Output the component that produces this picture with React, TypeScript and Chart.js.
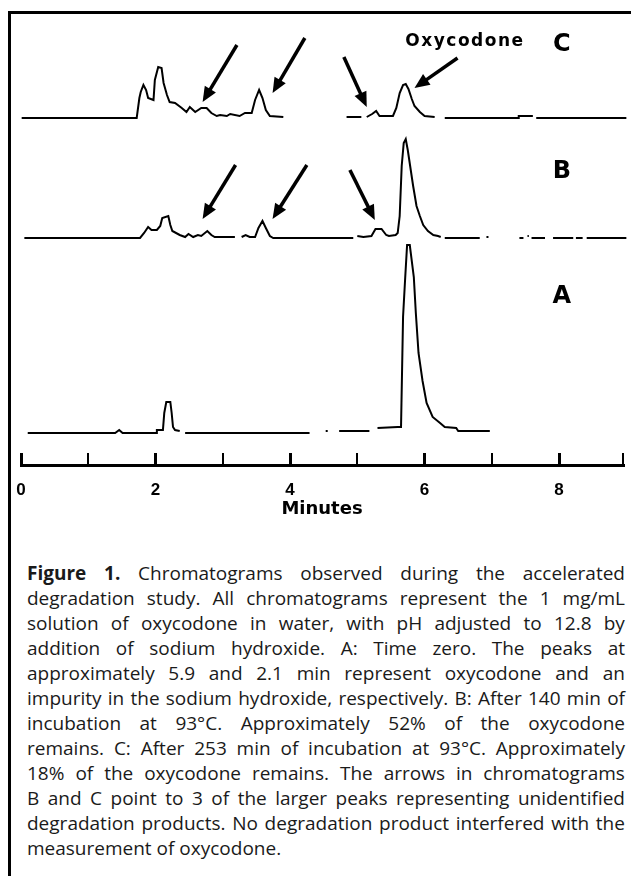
import React, { useEffect, useRef } from 'react';
import { Chart, registerables } from 'chart.js';

Chart.register(...registerables);

// ---- x axis (minutes) ----
const xMin = 0;
const xMax = 8.95;
const xTickValues = [0, 1, 2, 3, 4, 5, 6, 7, 8];
const xLabelValues = [0, 2, 4, 6, 8];

// ---- Chromatogram C : after 253 min at 93°C (null = gap in the recorder trace) ----
const timeC = [0.01, 1.72, 1.76, 1.78, 1.82, 1.86, 1.89, 1.97, 1.99, 2.04, 2.09, 2.12, 2.17, 2.21, 2.29, 2.39, 2.46, 2.51, 2.59, 2.68, 2.76, 2.83, 2.91, 2.96, 3.06, 3.11, 3.25, 3.33, 3.43, 3.48, 3.54, 3.59, 3.64, 3.70, 3.90,
  4.40,
  4.84, 5.06, 5.10, 5.14, 5.22, 5.28, 5.33, 5.53, 5.58, 5.63, 5.68, 5.72, 5.76, 5.81, 5.85, 5.93, 6.00, 6.15,
  6.22,
  6.30, 7.39, 7.40, 7.61, 7.63, 7.66, 9.0];
const signalC = [0, 0, 20, 26, 33, 28, 20, 18, 38, 51, 50, 35, 23, 16, 15, 10, 6, 11, 6, 10, 10, 5, 2, 3, 2, 4, 2, 5, 5, 18, 28, 20, 8, 2, 1,
  null,
  1, 1, null, 1, 4, 7, 2, 2, 10, 25, 33, 34, 29, 19, 12, 6, 2, 1,
  null,
  0, 0, 2, 2, null, 0, 0];

// ---- Chromatogram B : after 140 min at 93°C ----
const timeB = [0.05, 1.77, 1.83, 1.89, 1.94, 2.02, 2.07, 2.10, 2.19, 2.22, 2.25, 2.36, 2.44, 2.49, 2.56, 2.63, 2.68, 2.77, 2.83, 2.88, 3.18,
  3.22,
  3.28, 3.34, 3.40, 3.48, 3.53, 3.59, 3.64, 3.70, 3.75, 4.94,
  4.97,
  5.00, 5.09, 5.21, 5.27, 5.36, 5.43, 5.47, 5.57, 5.60, 5.63, 5.66, 5.69, 5.72, 5.75, 5.83, 5.88, 5.93, 5.98, 6.05, 6.13, 6.20, 6.24,
  6.27, 6.30, 6.82, 6.87, 6.92, 6.95, 7.20, 7.41, 7.47, 7.50, 7.53, 7.55, 7.57, 7.59, 7.79, 7.85, 7.91, 8.21, 8.23, 8.25, 8.35, 8.38, 8.41, 9.0];
const signalB = [0, 0, 5, 11, 8, 8, 12, 20, 22, 13, 7, 3, 1, 4, 1, 3, 2, 7, 3, 1, 1,
  null,
  1, 3, 1, 1, 10, 17, 10, 2, 0, 0,
  null,
  2, 1, 2, 9, 9, 3, 2, 3, 5, 22, 72, 95, 99, 88, 52, 32, 22, 13, 7, 3, 2, 1,
  null, 0, 0, null, 1, 1, null, 0, 0, null, 2, 2, null, 0, 0, null, 0, 0, null, 0, 0, null, 0, 0];

// ---- Chromatogram A : time zero ----
const timeA = [0.10, 1.40, 1.46, 1.51, 2.01, 2.02, 2.11, 2.13, 2.16, 2.22, 2.24, 2.26, 2.29, 2.36,
  2.40,
  2.44, 4.29, 4.40, 4.53, 4.56, 4.65, 4.73, 5.18, 5.24,
  5.30, 5.60, 5.65, 5.68, 5.71, 5.74, 5.78, 5.84, 5.87, 5.91, 5.97, 6.03, 6.12, 6.23, 6.30, 6.47, 6.50, 6.97];
const signalA = [0, 0, 3, 0, 0, 3, 3, 20, 31, 31, 20, 6, 3, 2,
  null,
  0, 0, null, 2, 2, null, 2, 2, null,
  5, 6, 6, 116, 153, 188, 188, 156, 120, 80, 52, 30, 16, 10, 6, 5, 2, 2];

// ---- arrows pointing at degradation peaks (minutes / response of the trace) ----
const arrowTrace = ['C', 'C', 'C', 'C', 'B', 'B', 'B'];
const arrowFromT = [3.21, 4.22, 4.80, 6.49, 3.19, 4.25, 4.89];
const arrowFromV = [73, 80, 61, 60, 73, 73, 68];
const arrowToT = [2.70, 3.74, 5.14, 5.85, 2.70, 3.74, 5.26];
const arrowToV = [16, 25, 11, 30, 19, 19, 18];

// ---- text labels ----
const labelText = ['Oxycodone', 'C', 'B', 'A'];
const labelTrace = ['C', 'C', 'B', 'A'];
const labelT = [6.60, 8.04, 8.04, 8.04];
const labelV = [76, 73, 66, 136];

const captionLines = [
  'Figure 1. Chromatograms observed during the accelerated',
  'degradation study. All chromatograms represent the 1 mg/mL',
  'solution of oxycodone in water, with pH adjusted to 12.8 by',
  'addition of sodium hydroxide. A: Time zero. The peaks at',
  'approximately 5.9 and 2.1 min represent oxycodone and an',
  'impurity in the sodium hydroxide, respectively. B: After 140 min of',
  'incubation at 93°C. Approximately 52% of the oxycodone',
  'remains. C: After 253 min of incubation at 93°C. Approximately',
  '18% of the oxycodone remains. The arrows in chromatograms',
  'B and C point to 3 of the larger peaks representing unidentified',
  'degradation products. No degradation product interfered with the',
  'measurement of oxycodone.',
];

function toPoints(t: number[], v: (number | null)[]) {
  return t.map((x, i) => ({ x, y: v[i] }));
}

function drawArrow(ctx: CanvasRenderingContext2D, x1: number, y1: number, x2: number, y2: number) {
  const ang = Math.atan2(y2 - y1, x2 - x1);
  const headLen = 15;
  const headW = 6.5;
  const bx = x2 - headLen * Math.cos(ang);
  const by = y2 - headLen * Math.sin(ang);
  ctx.lineWidth = 3.5;
  ctx.lineCap = 'butt';
  ctx.beginPath();
  ctx.moveTo(x1, y1);
  ctx.lineTo(bx + 2 * Math.cos(ang), by + 2 * Math.sin(ang));
  ctx.stroke();
  ctx.beginPath();
  ctx.moveTo(x2, y2);
  ctx.lineTo(bx + headW * Math.sin(ang), by - headW * Math.cos(ang));
  ctx.lineTo(bx - headW * Math.sin(ang), by + headW * Math.cos(ang));
  ctx.closePath();
  ctx.fill();
}

const annotationPlugin = {
  id: 'chromAnnotations',
  afterDatasetsDraw(chart: any) {
    const ctx: CanvasRenderingContext2D = chart.ctx;
    const xs = chart.scales.x;
    ctx.save();
    ctx.strokeStyle = '#000';
    ctx.fillStyle = '#000';
    for (let i = 0; i < arrowTrace.length; i++) {
      const ys = chart.scales['y' + arrowTrace[i]];
      drawArrow(ctx,
        xs.getPixelForValue(arrowFromT[i]), ys.getPixelForValue(arrowFromV[i]),
        xs.getPixelForValue(arrowToT[i]), ys.getPixelForValue(arrowToV[i]));
    }
    ctx.textAlign = 'center';
    ctx.textBaseline = 'middle';
    for (let i = 0; i < labelText.length; i++) {
      const ys = chart.scales['y' + labelTrace[i]];
      if (labelText[i].length > 1) {
        ctx.font = 'bold 17px "DejaVu Sans"';
        (ctx as any).letterSpacing = '1.5px';
      } else {
        ctx.font = 'bold 24px "DejaVu Sans"';
        (ctx as any).letterSpacing = '0px';
      }
      ctx.fillText(labelText[i], xs.getPixelForValue(labelT[i]), ys.getPixelForValue(labelV[i]));
    }
    ctx.restore();
  },
};

export default function App() {
  const ref = useRef<HTMLCanvasElement>(null);

  useEffect(() => {
    const traceStyle = {
      borderColor: '#000',
      borderWidth: 2,
      pointRadius: 0,
      tension: 0,
      spanGaps: false,
      clip: false as const,
    };
    const chart = new Chart(ref.current!, {
      type: 'line',
      data: {
        datasets: [
          { label: 'C', data: toPoints(timeC, signalC), yAxisID: 'yC', ...traceStyle },
          { label: 'B', data: toPoints(timeB, signalB), yAxisID: 'yB', ...traceStyle },
          { label: 'A', data: toPoints(timeA, signalA), yAxisID: 'yA', ...traceStyle },
        ],
      },
      options: {
        animation: false,
        responsive: false,
        devicePixelRatio: 1,
        layout: { padding: { left: 21, right: 8, top: 40, bottom: 0 } },
        plugins: { legend: { display: false }, tooltip: { enabled: false } },
        scales: {
          x: {
            type: 'linear',
            position: 'bottom',
            min: xMin,
            max: xMax,
            afterBuildTicks: (s: any) => {
              s.ticks = xTickValues.map((v) => ({ value: v })).concat([{ value: xMax }]);
            },
            afterFit: (s: any) => {
              s.height = 75;
              s.paddingLeft = 0;
              s.paddingRight = 0;
            },
            ticks: {
              autoSkip: false,
              maxRotation: 0,
              padding: 27,
              color: '#000',
              font: { family: '"Liberation Sans", Arial', size: 17, weight: 'bold' },
              callback: (v: any) => (xLabelValues.includes(v) ? String(v) : ''),
            },
            grid: {
              drawOnChartArea: false,
              drawTicks: true,
              tickLength: -12,
              color: '#000',
              lineWidth: (c: any) => (c.tick && c.tick.value % 2 === 0 ? 3 : 2),
            },
            border: { display: true, color: '#000', width: 3 },
            title: {
              display: true,
              text: 'Minutes',
              color: '#000',
              font: { family: '"DejaVu Sans"', size: 18, weight: 'bold' },
              padding: { top: 0, bottom: 20 },
            },
          },
          yC: { type: 'linear', position: 'left', stack: 'traces', stackWeight: 85, weight: 3, min: -7, max: 78, display: false },
          yB: { type: 'linear', position: 'left', stack: 'traces', stackWeight: 115, weight: 2, min: -2, max: 113, display: false },
          yA: { type: 'linear', position: 'left', stack: 'traces', stackWeight: 225, weight: 1, min: -32, max: 193, display: false },
        } as any,
      },
      plugins: [annotationPlugin],
    });
    return () => chart.destroy();
  }, []);

  return (
    <div style={{ position: 'fixed', left: 0, top: 0, width: 631, height: 876, background: '#fff', overflow: 'hidden' }}>
      <div style={{ position: 'absolute', left: 8, top: 11, width: 623, height: 3, background: '#000' }} />
      <div style={{ position: 'absolute', left: 8, top: 11, width: 3, height: 865, background: '#000' }} />
      <canvas ref={ref} width={631} height={540} style={{ position: 'absolute', left: 0, top: 0, width: 631, height: 540 }} />
      <div style={{ position: 'absolute', left: 27, top: 561, width: 598, fontFamily: '"Open Sans", sans-serif', fontSize: 19, lineHeight: '25px', color: '#1a1a1a' }}>
        {captionLines.map((line, i) => {
          const last = i === captionLines.length - 1;
          if (last) {
            return <div key={i} style={{ whiteSpace: 'pre', height: 25 }}>{line}</div>;
          }
          const words = line.split(' ');
          return (
            <div key={i} style={{ display: 'flex', justifyContent: 'space-between', whiteSpace: 'pre', height: 25 }}>
              {words.map((w, j) => (
                <span key={j} style={{ fontWeight: i === 0 && j < 2 ? 700 : 400 }}>{w}</span>
              ))}
            </div>
          );
        })}
      </div>
    </div>
  );
}
